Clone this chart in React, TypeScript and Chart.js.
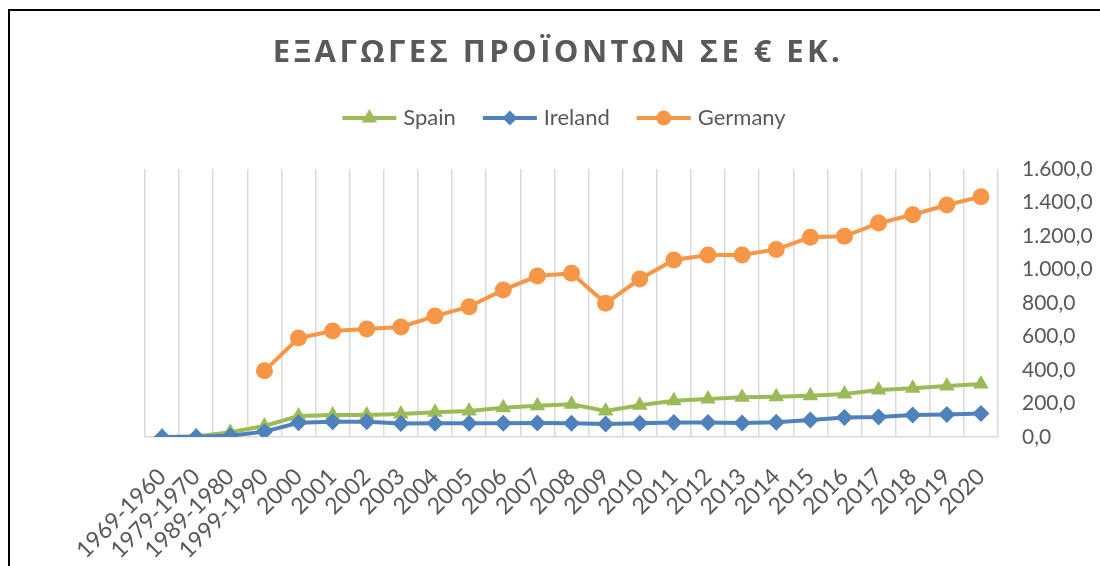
import React, { useEffect, useRef } from 'react';
import { Chart, registerables } from 'chart.js';
import { drawPoint } from 'chart.js/helpers';

Chart.register(...registerables);

const categories = [
  '1969-1960', '1979-1970', '1989-1980', '1999-1990',
  '2000', '2001', '2002', '2003', '2004', '2005', '2006', '2007', '2008', '2009',
  '2010', '2011', '2012', '2013', '2014', '2015', '2016', '2017', '2018', '2019', '2020',
];

const spain = [0, 3, 28, 66, 125, 131, 131, 138, 148, 155, 175, 187, 195, 155, 190, 217, 227, 238, 241, 247, 257, 281, 291, 304, 316];
const ireland = [0, 2, 8, 32, 85, 91, 91, 81, 82, 82, 82, 83, 82, 78, 82, 86, 86, 84, 88, 101, 116, 119, 131, 135, 141];
const germany = [null, null, null, 395, 591, 633, 645, 657, 722, 778, 878, 961, 977, 798, 943, 1057, 1087, 1087, 1120, 1192, 1198, 1277, 1327, 1385, 1435];

const yMin = 0;
const yMax = 1600;
const yStep = 200;

const TITLE = 'ΕΞΑΓΩΓΕΣ ΠΡΟΪΟΝΤΩΝ ΣΕ € ΕΚ.';
const seriesNames = ['Spain', 'Ireland', 'Germany'];
const seriesColors = ['#9BBB59', '#4F81BD', '#F79646'];
const seriesStyles = ['triangle', 'rectRot', 'circle'];

const TEXT_COLOR = '#595959';
const GRID_COLOR = '#d9d9d9';
const FONT = 'Lato, "Open Sans", sans-serif';

function fmt(v: number): string {
  const fixed = v.toFixed(1);
  const [intPart, dec] = fixed.split('.');
  const withDots = intPart.replace(/\B(?=(\d{3})+(?!\d))/g, '.');
  return withDots + ',' + dec;
}

function legendIcon(color: string, style: string): HTMLCanvasElement {
  const c = document.createElement('canvas');
  c.width = 56;
  c.height = 20;
  const ctx = c.getContext('2d')!;
  ctx.strokeStyle = color;
  ctx.lineWidth = 4;
  ctx.lineCap = 'butt';
  ctx.beginPath();
  ctx.moveTo(1, 10);
  ctx.lineTo(55, 10);
  ctx.stroke();
  ctx.fillStyle = color;
  ctx.strokeStyle = color;
  drawPoint(ctx, { pointStyle: style as any, radius: style === 'triangle' ? 9 : 7.5, rotation: 0, borderWidth: 0 } as any, 28, 10);
  return c;
}

const titlePlugin = {
  id: 'spacedTitle',
  afterDraw(chart: any) {
    const ctx = chart.ctx as CanvasRenderingContext2D;
    ctx.save();
    ctx.font = 'bold 31px "Open Sans", "Noto Sans", sans-serif';
    (ctx as any).letterSpacing = '3.4px';
    ctx.fillStyle = TEXT_COLOR;
    ctx.textAlign = 'center';
    ctx.textBaseline = 'middle';
    ctx.fillText(TITLE, 558, 53);
    ctx.restore();
  },
};

export default function App() {
  const ref = useRef<HTMLCanvasElement | null>(null);

  useEffect(() => {
    if (!ref.current) return;
    const datasets = seriesNames.map((name, i) => ({
      label: name,
      data: [spain, ireland, germany][i],
      borderColor: seriesColors[i],
      backgroundColor: seriesColors[i],
      pointBackgroundColor: seriesColors[i],
      pointBorderColor: seriesColors[i],
      pointBorderWidth: 0,
      borderWidth: 4,
      pointStyle: seriesStyles[i],
      pointRadius: seriesStyles[i] === 'triangle' ? 9 : 8.5,
      pointHoverRadius: 9,
      tension: 0,
      spanGaps: false,
      order: [1, 0, 2][i],
      yAxisID: 'y',
    }));

    const chart = new Chart(ref.current, {
      type: 'line',
      data: { labels: categories, datasets: datasets as any },
      plugins: [titlePlugin],
      options: {
        responsive: false,
        animation: false,
        layout: { padding: { top: 76, left: 32, right: 0, bottom: 0 } },
        plugins: {
          tooltip: { enabled: false },
          title: { display: false },
          subtitle: {
            display: true,
            text: '',
            position: 'top',
            weight: 500,
            padding: 0,
            font: { size: 30, lineHeight: 1 },
          } as any,
          legend: {
            display: true,
            position: 'top',
            fullSize: true,
            labels: {
              usePointStyle: true,
              pointStyleWidth: 46,
              padding: 31,
              color: TEXT_COLOR,
              font: { family: FONT, size: 22 },
              generateLabels: () =>
                seriesNames.map((name, i) => ({
                  text: name,
                  fillStyle: seriesColors[i],
                  strokeStyle: seriesColors[i],
                  lineWidth: 0,
                  pointStyle: legendIcon(seriesColors[i], seriesStyles[i]) as any,
                  datasetIndex: i,
                  hidden: false,
                  fontColor: TEXT_COLOR,
                })),
            },
          },
        },
        scales: {
          x: {
            offset: true,
            grid: { offset: true, color: GRID_COLOR, lineWidth: 1.5, drawTicks: false },
            border: { display: true, color: GRID_COLOR, width: 1.5 },
            ticks: {
              autoSkip: false,
              minRotation: 45,
              maxRotation: 45,
              padding: 26,
              color: TEXT_COLOR,
              font: { family: FONT, size: 23 },
            },
            afterFit: (scale: any) => {
              scale.height = 129;
            },
          },
          yLeft: {
            type: 'linear',
            position: 'left',
            display: true,
            grid: { display: false, drawTicks: false },
            border: { display: false },
            ticks: { display: false },
            afterFit: (scale: any) => {
              scale.width = 113;
            },
          },
          y: {
            position: 'right',
            min: yMin,
            max: yMax,
            grid: { display: false, drawTicks: false },
            border: { display: false },
            ticks: {
              stepSize: yStep,
              padding: 24,
              color: TEXT_COLOR,
              font: { family: FONT, size: 21 },
              callback: (v: any) => fmt(Number(v)),
            },
            afterFit: (scale: any) => {
              scale.width = 102;
            },
          },
        },
      },
    });
    return () => chart.destroy();
  }, []);

  return (
    <div style={{ position: 'fixed', left: 0, top: 0, width: 1100, height: 566, overflow: 'hidden', background: '#fff' }}>
      <div
        style={{
          position: 'absolute',
          left: 8,
          top: 9,
          width: 1200,
          height: 700,
          borderLeft: '2px solid #000',
          borderTop: '2px solid #000',
          boxSizing: 'border-box',
        }}
      />
      <canvas ref={ref} width={1100} height={566} style={{ position: 'absolute', left: 0, top: 0, width: 1100, height: 566 }} />
    </div>
  );
}
